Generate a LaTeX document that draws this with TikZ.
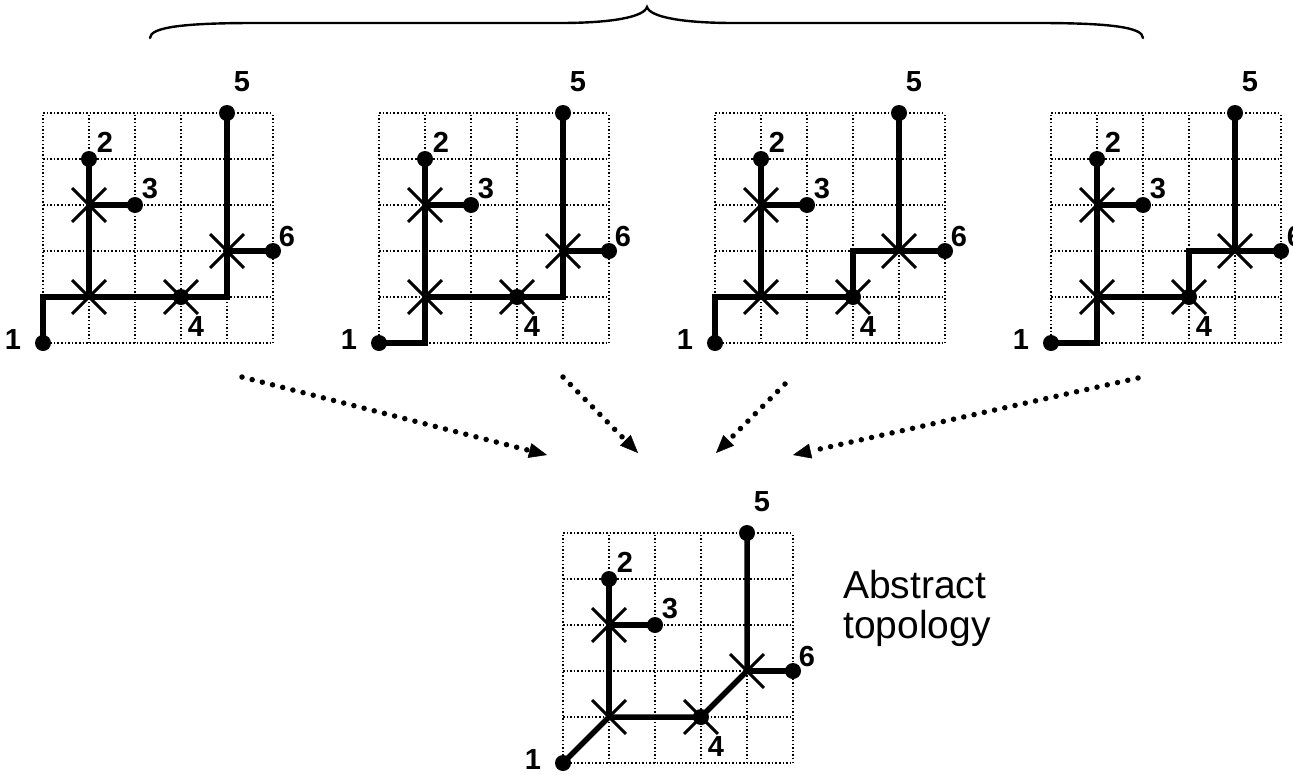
\documentclass[tikz,border=0pt]{standalone}
\usepackage{fontspec}
\setmainfont{Liberation Sans}
\usetikzlibrary{arrows.meta,shapes.misc}

\tikzset{
  gridline/.style={line width=1.5pt, dash pattern=on 1.5pt off 2.1pt},
  wire/.style={line width=5.5pt, line join=miter},
  terminal/.style={circle, fill, inner sep=0pt, minimum size=16pt},
  steiner/.style={cross out, draw, line width=2.9pt, inner sep=0pt, minimum size=31pt},
  lbl/.style={font=\bfseries\fontsize{29}{29}\selectfont, inner sep=0pt},
  flow/.style={line width=5.5pt, line cap=round, dash pattern=on 0pt off 10.5pt,
    -{Triangle[length=18pt,width=15pt,line width=0.5pt]}},
  bracestroke/.style={line width=2.4pt, line cap=round},
}

% One 5x5 routing grid with its six pins, the three Steiner points
% and the cross over pin 4; #1 is the name prefix.
\newcommand\netgrid[1]{%
  \foreach \i in {0,...,5} {
    \draw[gridline] (\i,0) -- (\i,5);
    \draw[gridline] (0,\i) -- (5,\i);
  }
  \node[terminal] (#1-1) at (0,0) {};
  \node[terminal] (#1-2) at (1,4) {};
  \node[terminal] (#1-3) at (2,3) {};
  \node[terminal] (#1-4) at (3,1) {};
  \node[terminal] (#1-5) at (4,5) {};
  \node[terminal] (#1-6) at (5,2) {};
  \node[steiner] (#1-a) at (1,3) {};
  \node[steiner] (#1-b) at (1,1) {};
  \node[steiner] (#1-c) at (4,2) {};
  \node[steiner] (#1-x) at (3,1) {};
  \node[lbl] (#1-l1) at ([shift={(-30pt,3pt)}]#1-1.center) {1};
  \node[lbl] (#1-l2) at ([shift={(16pt,17pt)}]#1-2.center) {2};
  \node[lbl] (#1-l3) at ([shift={(15pt,16pt)}]#1-3.center) {3};
  \node[lbl] (#1-l4) at ([shift={(15pt,-30pt)}]#1-4.center) {4};
  \node[lbl] (#1-l5) at ([shift={(15pt,31pt)}]#1-5.center) {5};
  \node[lbl] (#1-l6) at ([shift={(14pt,14pt)}]#1-6.center) {6};
}

\begin{document}
\begin{tikzpicture}[x=1pt, y=-1pt]
\useasboundingbox (0,0) rectangle (1293,774);

% brace over the four routings
\draw[bracestroke] (150,38) .. controls (150,27) and (185,23) .. (255,23)
  -- (560,23) .. controls (612,23) and (644,17) .. (647,7)
  .. controls (650,17) and (682,23) .. (734,23)
  -- (1038,23) .. controls (1108,23) and (1143,27) .. (1143,38);

% routing 1
\begin{scope}[shift={(43,343)}, x=46pt, y=46pt]
  \netgrid{ga}
  \draw[wire] (ga-1.center) |- (ga-4.center) -| (ga-5.center);
  \draw[wire] (ga-b.center) -- (ga-2.center);
  \draw[wire] (ga-a.center) -- (ga-3.center);
  \draw[wire] (ga-c.center) -- (ga-6.center);
\end{scope}

% routing 2
\begin{scope}[shift={(379,343)}, x=46pt, y=46pt]
  \netgrid{gb}
  \draw[wire] (gb-1.center) -| (gb-2.center);
  \draw[wire] (gb-b.center) -- (gb-4.center) -| (gb-5.center);
  \draw[wire] (gb-a.center) -- (gb-3.center);
  \draw[wire] (gb-c.center) -- (gb-6.center);
\end{scope}

% routing 3
\begin{scope}[shift={(715,343)}, x=46pt, y=46pt]
  \netgrid{gc}
  \draw[wire] (gc-1.center) |- (gc-4.center) |- (gc-6.center);
  \draw[wire] (gc-c.center) -- (gc-5.center);
  \draw[wire] (gc-b.center) -- (gc-2.center);
  \draw[wire] (gc-a.center) -- (gc-3.center);
\end{scope}

% routing 4
\begin{scope}[shift={(1051,343)}, x=46pt, y=46pt]
  \netgrid{gd}
  \draw[wire] (gd-1.center) -| (gd-2.center);
  \draw[wire] (gd-b.center) -- (gd-4.center) |- (gd-6.center);
  \draw[wire] (gd-c.center) -- (gd-5.center);
  \draw[wire] (gd-a.center) -- (gd-3.center);
\end{scope}

% abstract topology
\begin{scope}[shift={(563,763)}, x=46pt, y=46pt]
  \netgrid{gm}
  \draw[wire] (gm-1.center) -- (gm-b.center) -- (gm-4.center)
    -- (gm-c.center) -- (gm-5.center);
  \draw[wire] (gm-b.center) -- (gm-2.center);
  \draw[wire] (gm-a.center) -- (gm-3.center);
  \draw[wire] (gm-c.center) -- (gm-6.center);
\end{scope}

\node[anchor=north west, align=left, inner sep=0pt,
  font=\fontsize{39}{40}\selectfont] (caption) at (843,570) {Abstract\\topology};

% dotted arrows from each routing to the abstract topology
\coordinate (f1) at (242,377);  \coordinate (t1) at (547,455);
\coordinate (f2) at (563,377);  \coordinate (t2) at (638,453);
\coordinate (f3) at (785,384);  \coordinate (t3) at (716,453);
\coordinate (f4) at (1138,378); \coordinate (t4) at (793,455);
\draw[flow] (f1) -- (t1);
\draw[flow] (f2) -- (t2);
\draw[flow] (f3) -- (t3);
\draw[flow] (f4) -- (t4);
\end{tikzpicture}
\end{document}
